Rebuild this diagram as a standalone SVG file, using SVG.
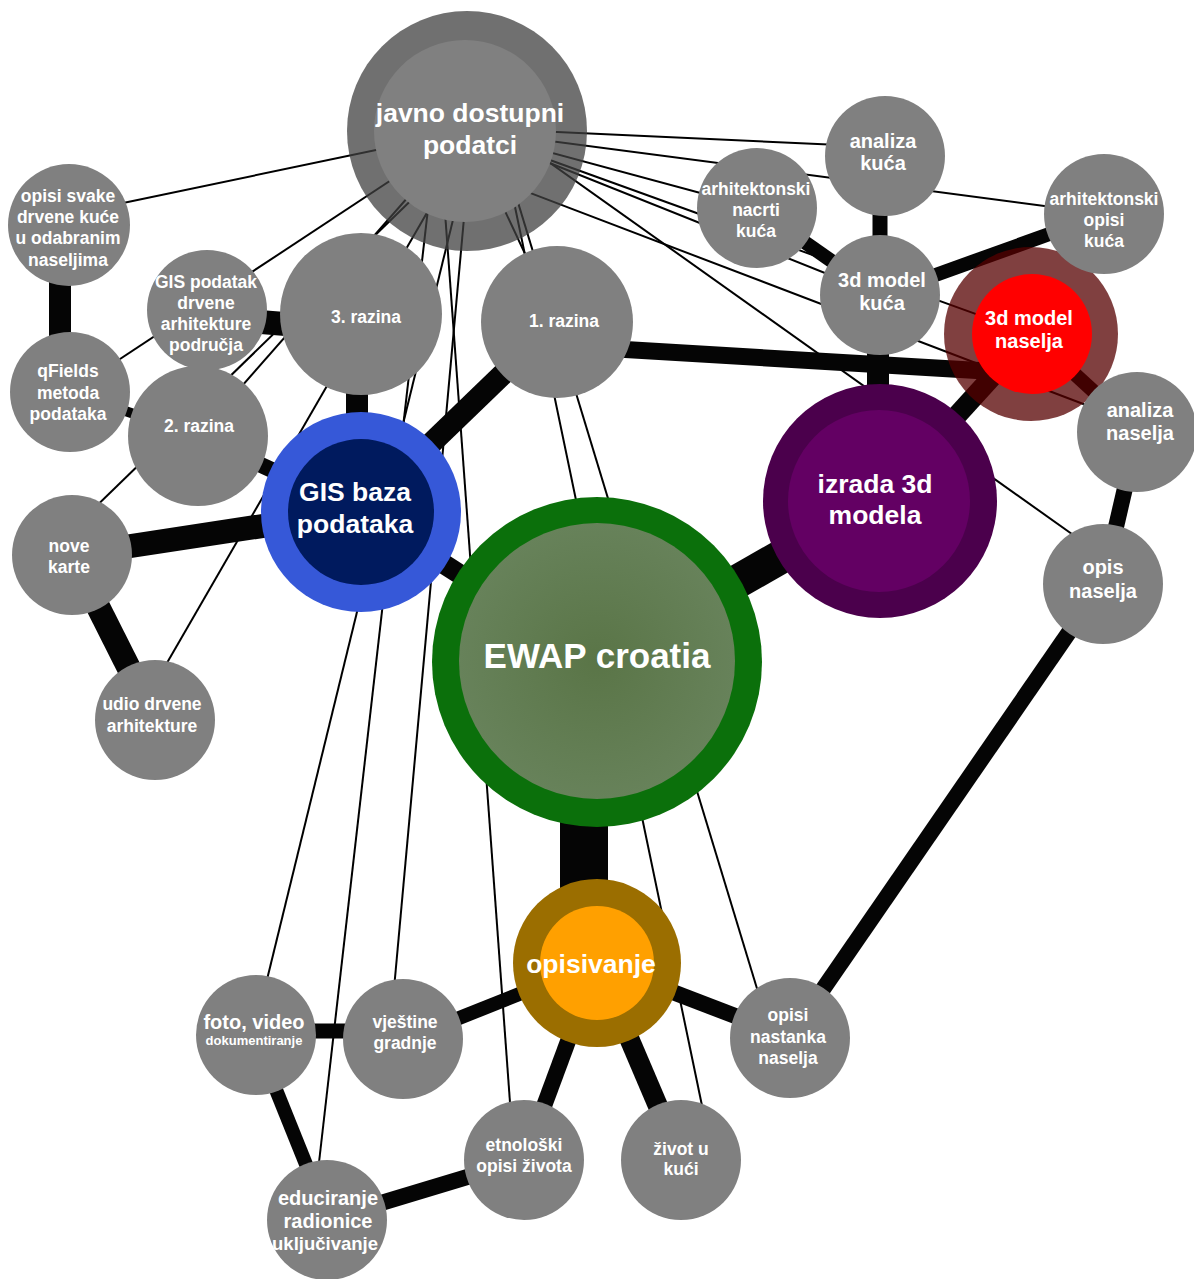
<svg xmlns="http://www.w3.org/2000/svg" width="1194" height="1279" viewBox="0 0 1194 1279">
<defs>
<radialGradient id="ewapg" cx="0.5" cy="0.5" r="0.5">
<stop offset="0" stop-color="#5a7547"/>
<stop offset="1" stop-color="#67825a"/>
</radialGradient>
</defs>
<style>
.n{fill:#808080}
.t{font-family:"Liberation Sans",Arial,Helvetica,sans-serif;font-weight:bold;fill:#fff;text-anchor:middle}
.s13{font-size:13px}
.s17{font-size:17.5px}
.s18{font-size:18.5px}
.s20{font-size:20px}
.s26{font-size:26.5px}
.s35{font-size:35px}
.thin line{stroke:#000;stroke-width:2}
.thick line{stroke:#050505;stroke-linecap:butt}
</style>
<rect width="1194" height="1279" fill="#fff"/>
<g id="connectors">
<g class="thin">
<line x1="467" y1="131" x2="80" y2="212"/>
<line x1="467" y1="130" x2="70" y2="392"/>
<line x1="467" y1="130" x2="198" y2="436"/>
<line x1="468" y1="145" x2="80" y2="522"/>
<line x1="469" y1="140" x2="160" y2="675"/>
<line x1="475" y1="130" x2="262" y2="1000"/>
<line x1="437" y1="130" x2="317" y2="1180"/>
<line x1="472" y1="130" x2="393" y2="1000"/>
<line x1="439" y1="130" x2="512" y2="1130"/>
<line x1="499" y1="130" x2="705" y2="1120"/>
<line x1="496" y1="130" x2="762" y2="1005"/>
<line x1="467" y1="130" x2="557" y2="322"/>
<line x1="467" y1="128" x2="884" y2="147"/>
<line x1="467" y1="130" x2="1105" y2="214"/>
<line x1="467" y1="130" x2="756" y2="208"/>
<line x1="467" y1="130" x2="880" y2="295"/>
<line x1="480" y1="113" x2="1100" y2="554"/>
<line x1="467" y1="130" x2="1031" y2="334"/>
<line x1="470" y1="170" x2="1120" y2="418"/>
</g>
<g class="thick">
<line x1="60" y1="262" x2="60" y2="360" stroke-width="22"/>
<line x1="70" y1="392" x2="198" y2="436" stroke-width="10"/>
<line x1="210" y1="318" x2="360" y2="330" stroke-width="24"/>
<line x1="357" y1="330" x2="357" y2="480" stroke-width="22"/>
<line x1="198" y1="436" x2="361" y2="511" stroke-width="16"/>
<line x1="72" y1="555" x2="361" y2="511" stroke-width="24"/>
<line x1="72" y1="555" x2="155" y2="720" stroke-width="24"/>
<line x1="361" y1="511" x2="557" y2="322" stroke-width="22"/>
<line x1="361" y1="511" x2="597" y2="662" stroke-width="20"/>
<line x1="600" y1="348" x2="1020" y2="373" stroke-width="17"/>
<line x1="880" y1="500" x2="1031" y2="334" stroke-width="20"/>
<line x1="1031" y1="334" x2="1138" y2="432" stroke-width="14"/>
<line x1="1138" y1="432" x2="1103" y2="583" stroke-width="16"/>
<line x1="1103" y1="583" x2="790" y2="1037" stroke-width="16"/>
<line x1="880" y1="500" x2="597" y2="662" stroke-width="34"/>
<line x1="584" y1="700" x2="584" y2="930" stroke-width="48"/>
<line x1="597" y1="963" x2="404" y2="1040" stroke-width="14"/>
<line x1="597" y1="963" x2="790" y2="1037" stroke-width="16"/>
<line x1="597" y1="963" x2="524" y2="1160" stroke-width="16"/>
<line x1="597" y1="963" x2="681" y2="1160" stroke-width="20"/>
<line x1="254" y1="1031" x2="404" y2="1031" stroke-width="15"/>
<line x1="254" y1="1035" x2="328" y2="1219" stroke-width="14"/>
<line x1="328" y1="1219" x2="524" y2="1160" stroke-width="16"/>
<line x1="880" y1="295" x2="880" y2="155" stroke-width="15"/>
<line x1="756" y1="208" x2="880" y2="295" stroke-width="14"/>
<line x1="880" y1="295" x2="1105" y2="214" stroke-width="14"/>
<line x1="878" y1="295" x2="878" y2="500" stroke-width="22"/>
</g>
</g>
<g id="n-javno">
<circle cx="467" cy="131" r="120" fill="#404040" fill-opacity="0.75"/>
<circle cx="465" cy="131" r="91" class="n"/>
<text class="t s26" x="470" y="122">javno dostupni</text>
<text class="t s26" x="470" y="154">podatci</text>
</g>
<g id="n-opisi-svake">
<circle cx="69" cy="225" r="61" class="n"/>
<text class="t s17" x="68" y="202">opisi svake</text>
<text class="t s17" x="68" y="223">drvene kuće</text>
<text class="t s17" x="68" y="244">u odabranim</text>
<text class="t s17" x="68" y="266">naseljima</text>
</g>
<g id="n-qfields">
<circle cx="70" cy="392" r="60" class="n"/>
<text class="t s17" x="68" y="377">qFields</text>
<text class="t s17" x="68" y="399">metoda</text>
<text class="t s17" x="68" y="420">podataka</text>
</g>
<g id="n-gis-podatak">
<circle cx="207" cy="310" r="60" class="n"/>
<text class="t s17" x="206" y="288">GIS podatak</text>
<text class="t s17" x="206" y="309">drvene</text>
<text class="t s17" x="206" y="330">arhitekture</text>
<text class="t s17" x="206" y="351">područja</text>
</g>
<g id="n-razina3">
<circle cx="361" cy="314" r="81" class="n"/>
<text class="t s17" x="366" y="323">3. razina</text>
</g>
<g id="n-razina2">
<circle cx="198" cy="436" r="70" class="n"/>
<text class="t s17" x="199" y="432">2. razina</text>
</g>
<g id="n-razina1">
<circle cx="557" cy="322" r="76" class="n"/>
<text class="t s17" x="564" y="327">1. razina</text>
</g>
<g id="n-nove-karte">
<circle cx="72" cy="555" r="60" class="n"/>
<text class="t s17" x="69" y="552">nove</text>
<text class="t s17" x="69" y="573">karte</text>
</g>
<g id="n-udio">
<circle cx="155" cy="720" r="60" class="n"/>
<text class="t s17" x="152" y="710">udio drvene</text>
<text class="t s17" x="152" y="732">arhitekture</text>
</g>
<g id="n-gis-baza">
<circle cx="361" cy="512" r="100" fill="#3658d8"/>
<circle cx="361" cy="512" r="73" fill="#001a5e"/>
<text class="t s26" x="355" y="501">GIS baza</text>
<text class="t s26" x="355" y="533">podataka</text>
</g>
<g id="n-ewap">
<circle cx="597" cy="662" r="165" fill="#0b700b"/>
<circle cx="597" cy="661" r="138" fill="url(#ewapg)"/>
<text class="t s35" x="597" y="668">EWAP croatia</text>
</g>
<g id="n-izrada">
<circle cx="880" cy="501" r="117" fill="#4b004c"/>
<circle cx="879" cy="501" r="91" fill="#630063"/>
<text class="t s26" x="875" y="493">izrada 3d</text>
<text class="t s26" x="875" y="524">modela</text>
</g>
<g id="n-3d-kuca">
<circle cx="880" cy="295" r="60" class="n"/>
<text class="t s20" x="882" y="287">3d model</text>
<text class="t s20" x="882" y="310">kuća</text>
</g>
<g id="n-analiza-kuca">
<circle cx="885" cy="156" r="60" class="n"/>
<text class="t s20" x="883" y="148">analiza</text>
<text class="t s20" x="883" y="170">kuća</text>
</g>
<g id="n-arh-nacrti">
<circle cx="757" cy="208" r="60" class="n"/>
<text class="t s17" x="756" y="195">arhitektonski</text>
<text class="t s17" x="756" y="216">nacrti</text>
<text class="t s17" x="756" y="237">kuća</text>
</g>
<g id="n-3d-naselja">
<circle cx="1031" cy="334" r="87" fill="#550000" fill-opacity="0.75"/>
<circle cx="1032" cy="334" r="60" fill="#ff0000"/>
<text class="t s20" x="1029" y="325">3d model</text>
<text class="t s20" x="1029" y="348">naselja</text>
</g>
<g id="n-arh-opisi">
<circle cx="1104" cy="214" r="60" class="n"/>
<text class="t s17" x="1104" y="205">arhitektonski</text>
<text class="t s17" x="1104" y="226">opisi</text>
<text class="t s17" x="1104" y="247">kuća</text>
</g>
<g id="n-analiza-naselja">
<circle cx="1137" cy="432" r="60" class="n"/>
<text class="t s20" x="1140" y="417">analiza</text>
<text class="t s20" x="1140" y="440">naselja</text>
</g>
<g id="n-opis-naselja">
<circle cx="1103" cy="584" r="60" class="n"/>
<text class="t s20" x="1103" y="574">opis</text>
<text class="t s20" x="1103" y="598">naselja</text>
</g>
<g id="n-opisivanje">
<circle cx="597" cy="963" r="84" fill="#9b6e00"/>
<circle cx="597" cy="963" r="57" fill="#ffa000"/>
<text class="t s26" x="591" y="973">opisivanje</text>
</g>
<g id="n-opisi-nastanka">
<circle cx="790" cy="1038" r="60" class="n"/>
<text class="t s17" x="788" y="1021">opisi</text>
<text class="t s17" x="788" y="1043">nastanka</text>
<text class="t s17" x="788" y="1064">naselja</text>
</g>
<g id="n-zivot">
<circle cx="681" cy="1160" r="60" class="n"/>
<text class="t s17" x="681" y="1155">život u</text>
<text class="t s17" x="681" y="1175">kući</text>
</g>
<g id="n-etnoloski">
<circle cx="524" cy="1160" r="60" class="n"/>
<text class="t s17" x="524" y="1151">etnološki</text>
<text class="t s17" x="524" y="1172">opisi života</text>
</g>
<g id="n-vjestine">
<circle cx="403" cy="1039" r="60" class="n"/>
<text class="t s17" x="405" y="1028">vještine</text>
<text class="t s17" x="405" y="1049">gradnje</text>
</g>
<g id="n-foto">
<circle cx="256" cy="1035" r="60" class="n"/>
<text class="t s20" x="254" y="1029">foto, video</text>
<text class="t s13" x="254" y="1045">dokumentiranje</text>
</g>
<g id="n-educiranje">
<circle cx="327" cy="1220" r="60" class="n"/>
<text class="t s20" x="328" y="1205">educiranje</text>
<text class="t s20" x="328" y="1228">radionice</text>
<text class="t s18" x="325" y="1250">uključivanje</text>
</g>
</svg>
